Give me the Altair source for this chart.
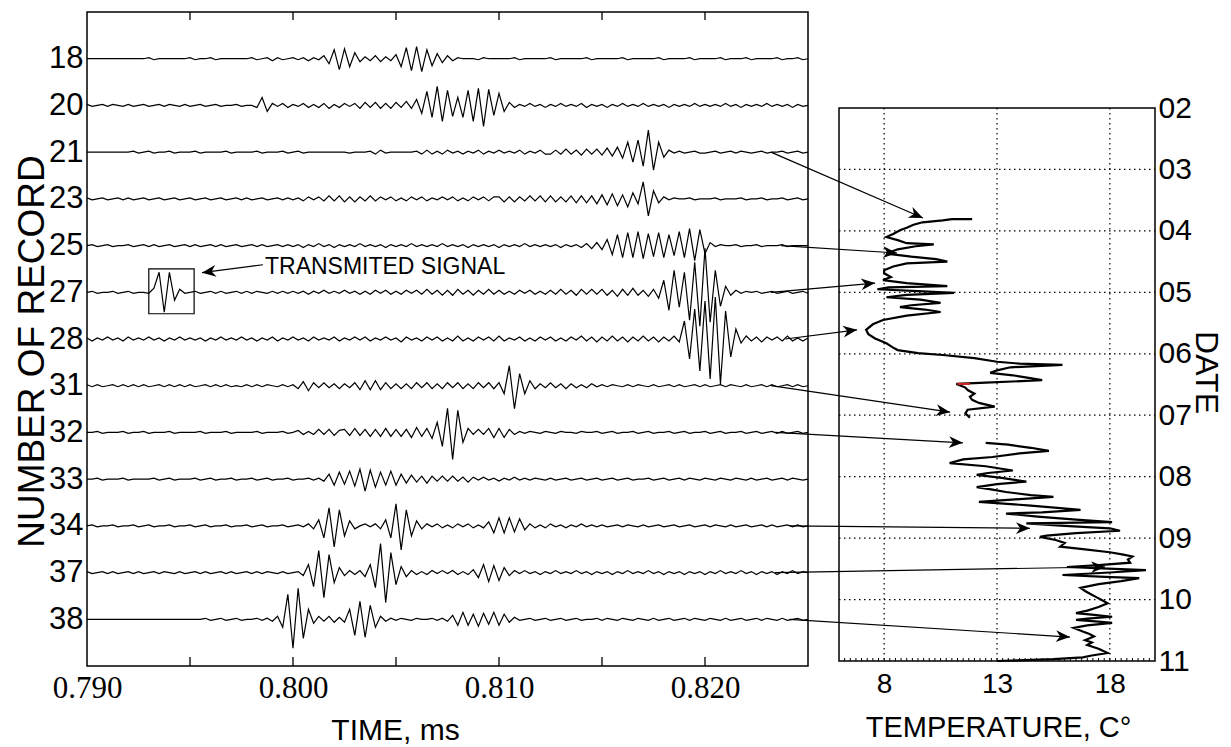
import math
import json
import altair as alt
import pandas as pd

# ---------------- data ----------------
RECORDS = ["18", "20", "21", "23", "25", "27", "28", "31", "32", "33", "34", "37", "38"]
T_START = 0.790          # ms, first sample of every trace
T_STEP = 0.00025         # ms between samples (half period of the wiggles)

TR18 = [0,0,0,0,0,0,0,0,0,0,
        0,0,1,-1,0,0,0,0,0,0,
        1,-1,0,0,1,-1,0,0,0,0,
        0,0,1,-1,0,1,-2,1,-1,0,
        1,-1,1,-2,1,-1,3,-5,9,-11,
        10,-8,6,-3,2,-2,3,-3,2,-2,
        4,-8,11,-12,12,-13,9,-7,5,-4,
        3,-2,1,0,0,0,-1,1,0,0,
        0,0,0,1,-1,0,0,0,0,0,
        1,-1,0,0,0,0,0,1,-1,0,
        0,0,0,0,1,-1,0,0,0,0,
        0,1,-1,0,0,0,0,1,-1,0,
        0,0,0,1,-1,0,0,0,1,-1,
        0,0,0,0,1,-1,0,0,1,-1,
        0]
TR20 = [1,-1,0,1,-1,1,0,-1,1,-1,
        0,1,-1,0,1,-1,1,0,-1,1,
        -1,0,1,-1,0,1,-1,0,0,1,
        -1,0,0,-2,8,-6,2,-1,2,-2,
        1,-1,2,-2,1,-2,2,-3,1,-2,
        2,-1,2,-3,3,-2,3,-3,2,-3,
        3,-2,4,-3,6,-8,14,-12,19,-16,
        15,-11,8,-12,15,-16,17,-21,16,-10,
        12,-6,3,-2,1,-1,2,-1,1,-2,
        1,-1,2,-1,1,-1,2,-2,1,-1,
        1,-2,1,-1,2,-1,1,-1,2,-1,
        1,-1,1,-2,1,-1,1,-1,2,-1,
        1,-1,1,-1,2,-1,1,-2,1,-1,
        1,-1,2,-1,1,-1,1,-2,1,-1,
        0]
TR21 = [0,0,0,0,0,0,0,0,0,1,
        -1,0,1,-1,0,0,1,-1,0,0,
        0,1,-1,0,0,0,0,1,-1,0,
        0,0,0,1,-1,0,0,0,1,-1,
        0,1,-1,0,0,0,0,0,0,0,
        0,-1,0,0,0,1,-2,2,-1,0,
        0,0,0,0,1,-2,2,-2,1,-2,
        2,-1,1,-2,1,-1,2,-2,1,-1,
        2,-1,1,-1,2,-2,1,-1,2,-2,
        -2,2,-2,3,-2,2,-3,3,-2,3,
        -3,4,-4,5,-6,10,-10,12,-14,22,
        -18,10,-5,2,-1,1,-1,0,1,-1,
        -1,0,1,-1,0,1,-1,1,0,-1,
        0,1,-1,0,0,1,-1,0,1,-1,
        0]
TR23 = [1,-1,0,1,-1,0,1,-1,1,-1,
        0,1,-1,0,1,-1,0,1,-1,0,
        1,-1,0,1,-1,0,1,-1,0,1,
        -1,1,-1,0,1,-1,0,1,-1,1,
        -1,1,-2,2,-1,2,-2,3,-2,3,
        -3,2,-3,2,-2,3,-2,2,-1,2,
        -2,1,-2,2,-1,2,-2,1,-1,2,
        -1,2,-2,1,-2,2,-1,2,-2,2,
        2,-3,2,-3,2,-2,3,-2,3,-3,
        3,-3,2,-3,3,-4,3,-4,3,-5,
        4,-6,5,-7,4,-8,6,-5,17,-17,
        8,-4,2,-1,1,0,0,1,-1,0,
        0,0,1,-1,0,0,0,1,-1,0,
        0,1,-1,0,0,1,-1,0,1,-1,
        0]
TR25 = [0,1,-1,0,1,-1,0,0,1,-1,
        0,1,-1,1,-1,0,1,-1,0,1,
        -1,1,-1,0,1,-1,1,-1,0,1,
        -1,0,1,-1,1,-1,0,1,-1,1,
        -1,1,-2,1,-1,2,-1,1,-2,1,
        -1,1,-1,2,-1,1,-1,1,-2,1,
        -1,1,-1,2,-1,1,-1,1,-1,2,
        -1,1,-1,1,-2,1,-1,1,-1,1,
        -2,1,-1,1,-1,2,-1,1,-1,1,
        -1,1,-2,1,-1,1,-2,2,-3,3,
        -4,6,-9,11,-12,13,-12,14,-13,12,
        -11,13,-12,11,-10,14,-12,17,-15,16,
        -8,3,-1,1,0,0,1,-1,0,0,
        1,-1,0,0,0,1,-1,0,0,0,
        0]
TR27 = [0,1,-1,0,0,1,-1,0,1,-1,
        0,0,-1,4,20,-20,20,-8,3,-1,
        0,1,-1,0,1,-1,1,-1,0,1,
        -1,1,-1,1,0,-1,1,-1,1,-1,
        1,-1,1,-2,1,-1,2,-1,1,-1,
        2,-1,1,-2,1,-2,2,-1,2,-2,
        1,-2,2,-1,2,-2,3,-2,2,-3,
        2,-3,3,-2,2,-3,2,-2,3,-2,
        2,-2,1,-2,2,-1,2,-2,1,-2,
        2,-2,3,-2,2,-3,3,-2,3,-2,
        3,-3,2,-4,3,-3,4,-3,2,-4,
        3,-6,12,-18,22,-15,20,-28,30,-34,
        44,-30,22,-14,6,-3,2,-1,1,0,
        1,-1,0,1,-1,0,1,-1,0,1,
        -1]
TR28 = [1,-2,1,-1,2,-1,1,-2,2,-1,
        1,-1,2,-1,1,-2,1,-1,2,-1,
        1,-1,1,-2,1,-1,2,-1,1,-1,
        2,-1,1,-2,1,-1,2,-2,1,-1,
        2,-1,1,-2,2,-1,1,-1,2,-2,
        1,-1,2,-1,2,-2,1,-1,2,-1,
        1,-3,2,-1,1,-2,2,-1,2,-2,
        1,-2,3,-2,1,-2,2,-1,2,-2,
        3,-2,1,-1,2,-2,1,-2,2,-1,
        2,-2,1,-2,2,-1,3,-2,2,-3,
        2,-2,3,-2,2,-3,2,-2,3,-2,
        2,-3,2,-2,3,-3,18,-20,30,-32,
        38,-40,42,-45,28,-18,10,-4,3,-2,
        2,-3,2,-1,2,-2,3,-2,1,-2,
        1]
TR31 = [1,-1,1,-1,0,1,-1,1,-1,1,
        -1,1,-1,0,1,-1,1,-1,1,-1,
        1,-1,0,1,-1,1,-1,1,-1,0,
        -1,1,-1,1,-1,1,0,-1,1,-1,
        1,-3,4,-5,3,-2,3,-2,2,-3,
        2,-2,3,-4,5,-4,5,-4,3,-3,
        2,-3,2,-3,3,-2,3,-3,2,-3,
        3,-2,3,-3,2,-3,3,-2,3,-3,
        3,-8,20,-23,12,-8,5,-3,2,-2,
        3,-2,2,-3,2,-2,1,-2,2,-1,
        1,-1,1,0,-1,1,-1,1,0,-1,
        1,-1,0,1,-1,1,-1,0,1,-1,
        1,-1,0,1,-1,1,0,-1,1,-1,
        0,1,-1,1,-1,0,1,-1,1,-1,
        0]
TR32 = [0,0,1,-1,0,0,0,1,-1,0,
        0,1,-1,0,0,0,1,-1,0,0,
        0,0,1,-1,0,0,0,1,-1,0,
        0,0,0,1,-1,0,0,0,1,-1,
        0,2,-2,1,-2,3,-2,3,-3,2,
        3,-3,4,-3,3,-4,3,-4,4,-4,
        3,-4,3,-5,5,-4,4,-6,10,-14,
        24,-27,22,-10,4,-2,3,-2,4,-5,
        4,-5,3,-2,1,-1,1,0,-1,1,
        0,-1,1,0,0,-1,1,0,0,1,
        -1,0,1,-1,0,0,1,-1,0,1,
        -1,0,0,1,-1,0,1,-1,0,0,
        1,-1,0,1,-1,0,0,1,-1,0,
        1,-1,0,1,-1,1,-1,0,1,-1,
        0]
TR33 = [0,0,1,-1,0,0,0,1,-1,0,
        0,0,0,1,-1,0,1,-1,0,0,
        0,1,-1,0,1,-1,0,0,1,-1,
        0,0,1,-1,0,1,-1,0,0,1,
        -1,0,0,1,-1,1,-2,5,-6,7,
        -5,8,-7,10,-12,9,-8,7,-6,8,
        -6,5,-4,4,-3,3,-4,3,-2,3,
        -2,3,-2,2,-3,2,-1,2,-1,1,
        -2,1,-1,2,-1,1,-1,1,0,-1,
        1,-1,0,1,-1,0,1,-1,0,1,
        -1,0,1,-1,0,1,-1,0,0,1,
        -1,0,1,-1,0,1,-1,1,0,-1,
        1,0,-1,1,0,-1,1,0,-1,1,
        -1,0,1,-1,0,1,-1,1,0,-1,
        0]
TR34 = [0,1,-1,0,0,1,-1,0,0,1,
        -1,0,1,-1,0,0,1,-1,0,0,
        1,-1,0,1,-1,0,0,1,-1,0,
        0,1,-1,0,1,-1,0,0,1,-1,
        0,1,-1,2,-3,6,-12,18,-21,16,
        -10,5,-3,0,2,-1,2,-3,6,-12,
        22,-24,16,-10,5,-3,2,-1,2,-2,
        1,-2,2,-1,2,-2,1,-2,4,-7,
        8,-7,8,-6,7,-4,2,-2,1,-2,
        2,-1,1,-2,1,-1,2,-1,1,-1,
        1,-1,0,1,-1,1,0,-1,1,-1,
        0,1,-1,0,1,-1,0,1,-1,0,
        1,-1,1,0,-1,1,-1,0,1,-1,
        0,1,-1,1,-1,0,1,-1,1,-1,
        0]
TR37 = [1,-1,0,1,-1,1,-1,0,1,-1,
        1,-1,0,1,-1,1,0,-1,1,-1,
        0,1,-1,1,-1,0,1,-1,1,-1,
        0,1,-1,1,-1,1,0,-1,1,-1,
        0,1,-3,8,-14,22,-25,18,-10,5,
        -3,2,-2,2,-4,8,-15,29,-30,20,
        -12,6,-4,2,-2,1,-2,2,-1,2,
        -1,2,-2,1,-2,3,-5,8,-9,7,
        -8,5,-3,2,-1,2,-1,1,-2,1,
        -1,2,-1,1,-1,2,-1,1,-2,1,
        -1,1,-2,1,-1,2,-1,1,-1,2,
        -1,1,-2,1,-1,1,-2,1,-1,1,
        -2,1,-1,2,-1,1,-1,2,-1,1,
        -2,1,-1,1,-2,1,-1,2,-1,1,
        0]
TR38 = [0,0,0,0,0,0,0,0,0,0,
        0,0,0,0,0,0,0,0,0,0,
        0,0,0,1,-1,0,1,-1,0,1,
        -1,0,0,1,-1,1,-2,3,-8,25,
        -29,31,-19,10,-4,3,-2,3,-3,2,
        -3,10,-16,18,-18,14,-8,3,-2,1,
        -1,1,0,-1,1,0,0,1,-1,1,
        -2,4,-6,7,-6,5,-7,6,-5,7,
        -6,5,-3,2,-1,0,1,-1,0,1,
        -1,0,1,-1,0,1,-1,0,0,1,
        -1,1,0,-1,1,0,-1,1,0,-1,
        1,-1,0,1,-1,0,1,-1,1,0,
        -1,1,0,-1,1,-1,0,1,-1,0,
        1,-1,1,0,-1,1,-1,0,1,-1,
        0]
TRACES = [TR18, TR20, TR21, TR23, TR25, TR27, TR28, TR31, TR32, TR33, TR34, TR37, TR38]

TIME_LABELS = [0.790, 0.800, 0.810, 0.820]
TIME_TICKS = [0.795, 0.800, 0.805, 0.810, 0.815, 0.820]
TEMP_LABELS = [8, 13, 18]
TEMP_MINOR = [6.25, 6.5, 6.75, 7, 7.25, 7.5, 7.75, 8, 8.25, 8.5, 8.75, 9, 9.25, 9.5, 9.75,
              10, 10.25, 10.5, 10.75, 11, 11.25, 11.5, 11.75, 12, 12.25, 12.5, 12.75, 13,
              13.25, 13.5, 13.75, 14, 14.25, 14.5, 14.75, 15, 15.25, 15.5, 15.75, 16,
              16.25, 16.5, 16.75, 17, 17.25, 17.5, 17.75, 18, 18.25, 18.5, 18.75, 19,
              19.25, 19.5, 19.75]
DATE_LABELS = [2, 3, 4, 5, 6, 7, 8, 9, 10, 11]
DATE_GRID = [3, 4, 5, 6, 7, 8, 9, 10]

# temperature profile (two pieces, gap near date 07)
DATE_A = [3.81,3.81,3.83,3.86,3.90,3.95,3.99,4.05,4.10,4.15,4.20,4.22,4.25,4.30,4.37,
          4.42,4.46,4.50,4.53,4.58,4.64,4.69,4.75,4.80,4.85,4.90,4.92,4.95,4.98,5.01,
          5.04,5.08,5.12,5.17,5.21,5.24,5.28,5.32,5.38,5.45,5.52,5.61,5.68,5.75,5.83,
          5.90,5.94,5.99,6.02,6.07,6.13,6.16,6.18,6.22,6.27,6.31,6.35,6.38,6.43,6.47,
          6.49,6.55,6.59,6.65,6.70,6.75,6.80,6.86,6.91,6.97,7.04]
TEMP_A = [11.9,11.0,10.6,9.7,9.3,9.0,8.7,8.4,8.1,8.6,9.0,10.2,9.4,8.6,8.1,
          9.2,10.3,10.8,9.0,8.4,8.0,8.0,8.3,7.95,9.0,10.8,8.2,7.7,9.5,11.1,
          9.0,8.1,9.6,10.5,9.2,8.7,9.8,10.5,9.0,7.95,7.5,7.2,7.3,7.6,8.1,
          8.4,8.6,9.5,10.6,12.0,13.0,14.0,15.9,13.6,13.0,12.7,13.7,14.2,15.0,12.5,
          11.2,11.6,11.7,12.0,11.8,11.9,12.2,12.9,11.7,11.6,11.8]
DATE_B = [7.45,7.48,7.53,7.58,7.62,7.68,7.72,7.78,7.83,7.90,7.94,7.97,8.02,8.08,8.12,
          8.17,8.21,8.25,8.30,8.33,8.37,8.41,8.47,8.54,8.58,8.60,8.65,8.70,8.74,8.76,
          8.80,8.84,8.88,8.92,8.96,8.98,9.03,9.08,9.14,9.18,9.23,9.27,9.30,9.35,9.40,
          9.44,9.47,9.50,9.52,9.56,9.60,9.63,9.65,9.70,9.75,9.81,9.86,9.90,9.96,10.02,
          10.06,10.12,10.18,10.22,10.25,10.28,10.31,10.33,10.36,10.38,10.42,10.46,10.52,10.56,10.60,
          10.66,10.70,10.74,10.80,10.87,10.91,10.94,10.97,10.99,11.0]
TEMP_B = [12.5,13.5,14.5,15.3,14.0,12.8,11.5,10.9,12.5,13.7,12.6,12.1,13.2,14.3,13.0,
          12.1,12.8,13.4,14.5,15.5,13.8,12.2,14.5,16.7,15.0,13.4,14.8,16.5,18.1,14.3,
          16.0,18.0,18.45,16.5,15.2,14.9,15.6,16.0,15.8,16.8,18.0,18.6,19.0,18.8,18.9,
          17.5,16.1,18.2,19.6,18.0,15.9,17.8,19.3,18.5,17.5,16.7,16.9,17.1,17.4,17.7,
          17.9,17.5,17.0,16.5,17.3,18.1,17.0,16.5,17.5,18.1,17.0,16.4,16.8,17.1,17.3,
          16.9,17.2,17.0,17.5,17.9,17.2,16.8,15.5,13.9,13.0]
RED_DATE = [6.49, 6.49]
RED_TEMP = [11.25, 11.8]

# arrows: record row -> point on the temperature profile
ARROW_ROW = [2, 4, 5, 6, 7, 8, 10, 11, 12]
ARROW_TIME = [0.8232, 0.8237, 0.8232, 0.8239, 0.8232, 0.8234, 0.8241, 0.8234, 0.8241]
ARROW_TEMP = [9.72, 8.57, 7.60, 6.80, 10.92, 11.49, 14.46, 17.79, 16.23]
ARROW_DATE = [3.79, 4.36, 4.85, 5.61, 6.95, 7.45, 8.84, 9.47, 10.61]

SIGNAL_LABEL = "TRANSMITED SIGNAL"
SIGNAL_BOX_TIME = [0.7930, 0.7952]
SIGNAL_BOX_ROW = [4.50, 5.46]
SIGNAL_LABEL_TIME = 0.79864
SIGNAL_LABEL_ROW = 4.45
SIGNAL_ARROW_TIME = [0.79854, 0.79558]
SIGNAL_ARROW_ROW = [4.41, 4.58]

# ---------------- layout ----------------
W, H = 1068, 654
LW = 721
LX_DOM = [0.790, 0.825]
LY_DOM = [-1, 13]
RX_DOM = [6, 20]
RY_DOM = [2, 11]
RX_RNG = [752, 1068]
RY_RNG = [96, 649]
ROW_PX = H / (LY_DOM[1] - LY_DOM[0])
DATE_PX = (RY_RNG[1] - RY_RNG[0]) / (RY_DOM[1] - RY_DOM[0])

SANS = "Liberation Sans, Arial, sans-serif"
SERIF = "Liberation Serif, Times New Roman, serif"


def lx_px(t):
    return (t - LX_DOM[0]) / (LX_DOM[1] - LX_DOM[0]) * LW


def ly_px(r):
    return (r - LY_DOM[0]) / (LY_DOM[1] - LY_DOM[0]) * H


def rx_px(T):
    return RX_RNG[0] + (T - RX_DOM[0]) / (RX_DOM[1] - RX_DOM[0]) * (RX_RNG[1] - RX_RNG[0])


def ry_px(d):
    return RY_RNG[0] + (d - RY_DOM[0]) / (RY_DOM[1] - RY_DOM[0]) * (RY_RNG[1] - RY_RNG[0])


def px_to_left(px, py):
    return (LX_DOM[0] + px / LW * (LX_DOM[1] - LX_DOM[0]),
            LY_DOM[0] + py / H * (LY_DOM[1] - LY_DOM[0]))


def LXS():
    return alt.Scale(domain=LX_DOM, range=[0, LW], nice=False, zero=False)


def LYS():
    return alt.Scale(domain=LY_DOM, range=[0, H], nice=False, zero=False)


def RXS():
    return alt.Scale(domain=RX_DOM, range=RX_RNG, nice=False, zero=False)


def RYS():
    return alt.Scale(domain=RY_DOM, range=RY_RNG, nice=False, zero=False)


# ---------------- tables ----------------
rows = []
for i, (rec, amps) in enumerate(zip(RECORDS, TRACES)):
    for k, a in enumerate(amps):
        rows.append({"rec": rec, "seq": k, "t": T_START + k * T_STEP, "y": i - a / ROW_PX})
tr_df = pd.DataFrame(rows)

temp_rows = []
for seg, (ds, ts) in enumerate([(DATE_A, TEMP_A), (DATE_B, TEMP_B)]):
    for k, (d, T) in enumerate(zip(ds, ts)):
        temp_rows.append({"seg": seg, "seq": k, "d": d, "T": T})
temp_df = pd.DataFrame(temp_rows)
red_df = pd.DataFrame({"seq": [0, 1], "d": RED_DATE, "T": RED_TEMP})

arrow_rows = []
for r, t0, T, d in zip(ARROW_ROW, ARROW_TIME, ARROW_TEMP, ARROW_DATE):
    px1, py1 = rx_px(T), ry_px(d)
    t1, r1 = px_to_left(px1, py1)
    ang = math.degrees(math.atan2(py1 - ly_px(r), px1 - lx_px(t0))) % 360
    arrow_rows.append({"t0": t0, "r0": r, "t1": t1, "r1": r1, "ang": ang})
sig_ang = math.degrees(math.atan2(ly_px(SIGNAL_ARROW_ROW[1]) - ly_px(SIGNAL_ARROW_ROW[0]),
                                  lx_px(SIGNAL_ARROW_TIME[1]) - lx_px(SIGNAL_ARROW_TIME[0]))) % 360
arrow_rows.append({"t0": SIGNAL_ARROW_TIME[0], "r0": SIGNAL_ARROW_ROW[0],
                   "t1": SIGNAL_ARROW_TIME[1], "r1": SIGNAL_ARROW_ROW[1], "ang": sig_ang})
arrow_df = pd.DataFrame(arrow_rows)

tick_rows = []
for t in TIME_TICKS:
    tick_rows.append({"t": t, "a": LY_DOM[0], "b": LY_DOM[0] + 8 / ROW_PX})
    tick_rows.append({"t": t, "a": LY_DOM[1], "b": LY_DOM[1] - 9 / ROW_PX})
tick_df = pd.DataFrame(tick_rows)

minor_df = pd.DataFrame({"T": TEMP_MINOR, "a": [RY_DOM[1]] * len(TEMP_MINOR),
                         "b": [RY_DOM[1] - 3 / DATE_PX] * len(TEMP_MINOR)})
vgrid_df = pd.DataFrame({"T": TEMP_LABELS, "a": [RY_DOM[0]] * 3, "b": [RY_DOM[1]] * 3})
hgrid_df = pd.DataFrame({"d": DATE_GRID, "a": [RX_DOM[0]] * len(DATE_GRID),
                         "b": [RX_DOM[1]] * len(DATE_GRID)})

# ---------------- axes ----------------
ax_lx = alt.Axis(orient="bottom", values=TIME_LABELS, format=".3f",
                 labelFont=SERIF, labelFontSize=31, labelColor="black", labelPadding=7,
                 labelFlush=False, labelOverlap=False, domain=False, ticks=False, grid=False,
                 title="TIME, ms", titleFont=SANS, titleFontSize=30, titleFontWeight="normal",
                 titleColor="black", titleX=308, titleY=73, titleBaseline="alphabetic",
                 titleAlign="center")
ax_ly = alt.Axis(orient="left", values=list(range(len(RECORDS))),
                 labelExpr=json.dumps(RECORDS) + "[datum.value]",
                 labelFont=SANS, labelFontSize=31, labelColor="black", labelPadding=4,
                 labelFlush=False, labelOverlap=False, domain=False, ticks=False, grid=False,
                 title="NUMBER OF RECORD", titleFont=SANS, titleFontSize=37,
                 titleFontWeight="normal", titleColor="black", titleAngle=270,
                 titleX=-44, titleY=339, titleBaseline="alphabetic", titleAlign="center")
ax_rx = alt.Axis(orient="bottom", values=TEMP_LABELS, labelFont=SANS, labelFontSize=28,
                 labelColor="black", labelPadding=4, labelFlush=False, labelOverlap=False,
                 domain=False, ticks=False, grid=False,
                 title="TEMPERATURE, C°", titleFont=SANS, titleFontSize=29,
                 titleFontWeight="normal", titleColor="black", titleX=911, titleY=70,
                 titleBaseline="alphabetic", titleAlign="center")
ax_ry = alt.Axis(orient="right", values=DATE_LABELS, format="02d", labelFont=SANS,
                 labelFontSize=30, labelColor="black", labelPadding=3, labelFlush=False,
                 labelOverlap=False, domain=False, ticks=False, grid=False,
                 title="DATE", titleFont=SANS, titleFontSize=32, titleFontWeight="normal",
                 titleColor="black", titleAngle=90, titleX=40, titleY=360,
                 titleBaseline="alphabetic", titleAlign="center")

# ---------------- left panel ----------------
traces = alt.Chart(tr_df).mark_line(color="black", strokeWidth=1.2).encode(
    x=alt.X("t:Q", scale=LXS(), axis=ax_lx),
    y=alt.Y("y:Q", scale=LYS(), axis=ax_ly),
    detail="rec:N", order="seq:Q")

lframe = alt.Chart(pd.DataFrame({"x0": [LX_DOM[0]], "x1": [LX_DOM[1]],
                                 "y0": [LY_DOM[0]], "y1": [LY_DOM[1]]})).mark_rect(
    fillOpacity=0, stroke="black", strokeWidth=1.5).encode(
    x=alt.X("x0:Q", scale=LXS(), axis=None), x2="x1",
    y=alt.Y("y0:Q", scale=LYS(), axis=None), y2="y1")

lticks = alt.Chart(tick_df).mark_rule(color="black", strokeWidth=1.3).encode(
    x=alt.X("t:Q", scale=LXS(), axis=None),
    y=alt.Y("a:Q", scale=LYS(), axis=None), y2="b")

box = alt.Chart(pd.DataFrame({"x0": [SIGNAL_BOX_TIME[0]], "x1": [SIGNAL_BOX_TIME[1]],
                              "y0": [SIGNAL_BOX_ROW[0]], "y1": [SIGNAL_BOX_ROW[1]]})).mark_rect(
    fillOpacity=0, stroke="black", strokeWidth=1.2).encode(
    x=alt.X("x0:Q", scale=LXS(), axis=None), x2="x1",
    y=alt.Y("y0:Q", scale=LYS(), axis=None), y2="y1")

sig_text = alt.Chart(pd.DataFrame({"t": [SIGNAL_LABEL_TIME], "r": [SIGNAL_LABEL_ROW],
                                   "label": [SIGNAL_LABEL]})).mark_text(
    align="left", baseline="middle", font=SANS, fontSize=23, color="black").encode(
    x=alt.X("t:Q", scale=LXS(), axis=None),
    y=alt.Y("r:Q", scale=LYS(), axis=None), text="label:N")

# ---------------- right panel ----------------
temp_line = alt.Chart(temp_df).mark_line(color="black", strokeWidth=2.2).encode(
    x=alt.X("T:Q", scale=RXS(), axis=ax_rx),
    y=alt.Y("d:Q", scale=RYS(), axis=ax_ry),
    detail="seg:N", order="seq:Q")

red_line = alt.Chart(red_df).mark_line(color="#d42020", strokeWidth=2).encode(
    x=alt.X("T:Q", scale=RXS(), axis=None),
    y=alt.Y("d:Q", scale=RYS(), axis=None), order="seq:Q")

vgrid = alt.Chart(vgrid_df).mark_rule(color="black", strokeWidth=1.2, strokeDash=[1.5, 3.5]).encode(
    x=alt.X("T:Q", scale=RXS(), axis=None),
    y=alt.Y("a:Q", scale=RYS(), axis=None), y2="b")
hgrid = alt.Chart(hgrid_df).mark_rule(color="black", strokeWidth=1.2, strokeDash=[1.5, 3.5]).encode(
    y=alt.Y("d:Q", scale=RYS(), axis=None),
    x=alt.X("a:Q", scale=RXS(), axis=None), x2="b")
minor = alt.Chart(minor_df).mark_rule(color="black", strokeWidth=1).encode(
    x=alt.X("T:Q", scale=RXS(), axis=None),
    y=alt.Y("a:Q", scale=RYS(), axis=None), y2="b")

rframe = alt.Chart(pd.DataFrame({"x0": [RX_DOM[0]], "x1": [RX_DOM[1]],
                                 "y0": [RY_DOM[0]], "y1": [RY_DOM[1]]})).mark_rect(
    fillOpacity=0, stroke="black", strokeWidth=1.5).encode(
    x=alt.X("x0:Q", scale=RXS(), axis=None), x2="x1",
    y=alt.Y("y0:Q", scale=RYS(), axis=None), y2="y1")

# ---------------- arrows (left-panel coordinates) ----------------
arrow_lines = alt.Chart(arrow_df).mark_rule(color="black", strokeWidth=1.2).encode(
    x=alt.X("t0:Q", scale=LXS(), axis=None), x2="t1",
    y=alt.Y("r0:Q", scale=LYS(), axis=None), y2="r1")
arrow_heads = alt.Chart(arrow_df).mark_point(
    shape="M0,0L-1,-0.42L-0.7,0L-1,0.42Z", filled=True, size=784, opacity=1,
    color="black", strokeWidth=0).encode(
    x=alt.X("t1:Q", scale=LXS(), axis=None),
    y=alt.Y("r1:Q", scale=LYS(), axis=None),
    angle=alt.Angle("ang:Q", scale=None))

chart = alt.layer(
    traces, lframe, lticks, box, sig_text,
    vgrid, hgrid, minor, rframe, temp_line, red_line,
    arrow_lines, arrow_heads,
).resolve_scale(x="independent", y="independent").properties(
    width=W, height=H,
    padding={"left": 79, "top": 4, "right": 68, "bottom": 79},
    autosize=alt.AutoSizeParams(type="none"),
    background="white").configure_view(stroke=None)

chart.save("out.html", embed_options={"renderer": "svg", "actions": False})
